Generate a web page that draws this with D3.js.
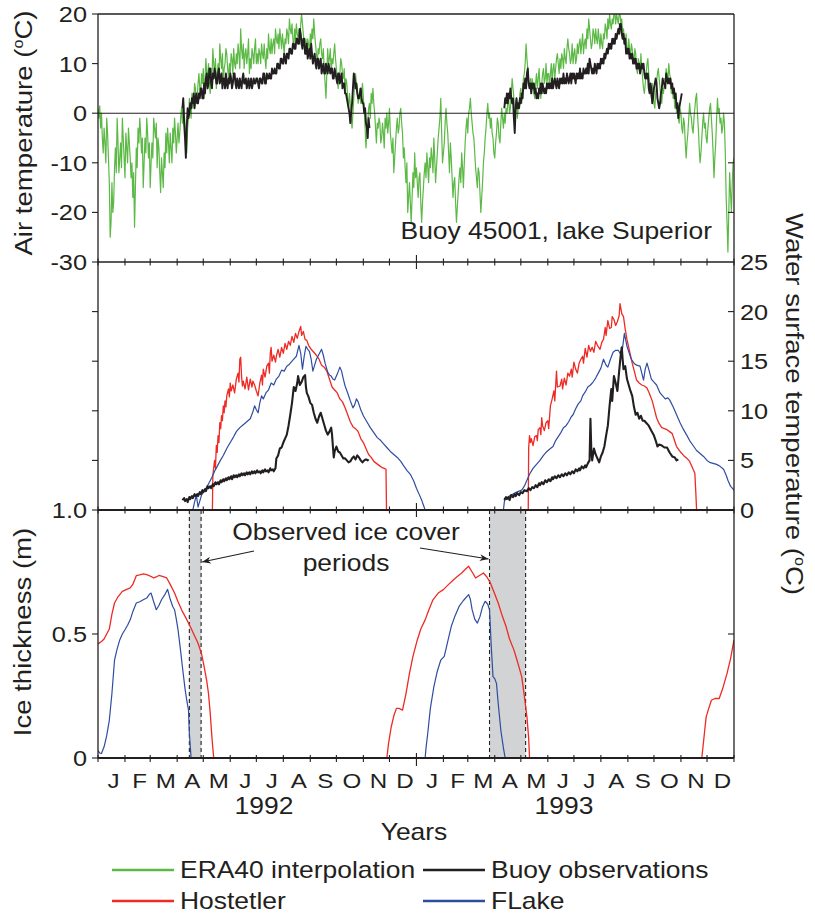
<!DOCTYPE html>
<html>
<head>
<meta charset="utf-8">
<script src="https://cdn.jsdelivr.net/npm/d3@7"></script>
<style>
  body { margin: 0; background: #fff; }
  text { font-family: "Liberation Sans", Arial, sans-serif; fill: #231f20; }
</style>
</head>
<body>
<div id="chart"></div>
<script>
// ---- data; days counted from 1992-01-01 ----
const monthLetters = ["J", "F", "M", "A", "M", "J", "J", "A", "S", "O", "N", "D"];
const yearLabels = ["1992", "1993"];
const airTicks = [-30, -20, -10, 0, 10, 20];
const waterTicks = [0, 5, 10, 15, 20, 25];
const iceTicks = [0, 0.5, 1.0];
const iceTickLabels = ["0", "0.5", "1.0"];

// observed ice cover periods (start day, end day)
const icePeriods = [[105, 118.5], [450, 491.5]];

// daily air temperature, ERA40 interpolation (degC), day 0 = 1 Jan 1992
const era40Air = [1,-1,1.5,-3,0,-5,-8,-3,-6,-10,-1,-4,-9,-14,-25,-22,-14,-20,-18,-11,-7,-12,-1,-6,-12,-9,-6,-11,-1,-5,
  -9,-13,-4,-7,-10,-3,-6,-9,-13,-10,-17,-12,-23,-15,-7,-11,-3,-6,-1,-4,-8,-5,-15,-10,-5,-8,-1,-4,-9,-6,
  -15,-10,-6,-9,-1,-3,-5,-2,-11,-5,-7,-12,-16,-9,-12,-15,-8,-11,-4,-8,-3,-6,-10,-4,-7,-10,-3,-6,-1,-4,
  -8,-5,-2,-6,-4,-1,1,-2,3,0,-2,-5,-8,-3,-1,3,1,-1,4,1,2,6,5,2,3,6,8,5,4,8,
  6,9,3,7,11,8,7,10,6,4,9,7,13,10,8,11,5,8,10,7,14,11,9,12,6,9,10,13,12,9,
  7,10,8,12,11,8,13,10,9,12,10,14,12,9,17,13,11,14,9,12,13,10,12,15,8,11,9,13,12,10,
  13,15,10,12,10,13,12,10,14,12,11,14,11,9,13,11,16,13,12,15,12,14,15,12,17,15,14,16,13,17,
  15,13,16,14,12,15,14,17,16,14,19,17,16,18,15,13,17,15,18,16,15,17,14,18,20,18,16,14,13,15,
  12,15,14,12,16,14,17,15,19,16,14,12,10,13,12,14,15,12,11,13,9,6,3,8,13,10,11,13,8,11,
  10,12,14,11,9,7,5,7,8,11,10,8,7,9,4,7,6,3,1,4,2,-1,-3,0,3,6,8,6,5,2,
  3,5,2,4,6,3,1,-3,-7,-4,-2,1,2,-1,4,2,5,2,0,-3,-6,-2,-3,-1,-2,-6,-5,-2,-4,-7,
  -1,-3,0,-4,-2,1,-4,-6,-8,-5,-12,-9,-6,-3,-1,-4,-3,0,1,-2,-4,-9,-7,-11,-14,-10,-20,-17,-14,-18,
  -22,-17,-12,-15,-8,-13,-11,-14,-17,-13,-12,-18,-22,-18,-15,-12,-10,-13,-8,-11,-14,-9,-11,-7,-9,-12,-5,-9,-14,-11,
  -8,-5,-3,-1,3,-4,-10,-8,-6,-2,1,-2,-4,-8,-12,-6,-9,-13,-17,-14,-13,-18,-22,-19,-16,-13,-11,-14,-8,-11,
  -15,-10,-6,-3,-1,-4,0,1,3,0,-2,-4,-5,-8,-11,-13,-15,-11,-12,-16,-20,-17,-14,-10,-8,-5,-3,0,2,-1,
  0,-3,-1,-4,-5,-8,-9,-6,-4,-1,-2,-5,-6,-2,1,-1,-3,0,-2,1,0,2,3,0,1,4,7,5,3,0,
  1,3,-1,1,2,4,5,2,4,7,8,10,14,11,9,6,5,7,4,7,6,4,3,6,8,5,7,9,5,3,
  6,8,9,6,7,10,6,8,8,5,8,10,6,9,10,7,9,11,12,10,8,11,9,12,11,9,13,11,10,13,
  15,13,12,10,11,14,10,12,13,10,11,14,12,14,15,12,14,16,12,14,15,13,17,15,19,17,15,13,14,17,
  16,14,17,15,14,17,15,13,16,14,13,16,15,18,17,15,19,17,20,18,17,19,18,20,20,18,20,19,18,20,
  20,18,19,16,17,15,14,16,13,12,15,13,11,14,13,11,10,13,12,9,8,11,10,8,12,9,7,5,4,6,
  8,10,11,8,6,4,3,6,5,2,1,4,6,8,9,7,5,3,2,5,4,7,6,9,8,6,10,8,7,4,
  6,3,4,1,3,0,1,-1,-2,1,0,-3,-4,-1,-2,-6,-9,-6,-4,-1,2,0,-1,-3,-4,-1,1,3,4,0,
  -3,-7,-10,-8,-5,-2,0,-3,-2,-5,-6,-3,-1,1,2,-1,-4,-8,-13,-9,-6,-1,3,0,1,-2,-1,-4,-3,0,
  -2,-8,-17,-22,-28,-20,-12,-16,-20,-14,-10,-9];

// daily air temperature, buoy observations (degC)
const buoyAir92Start = 97;
const buoyAir92 = [1,3,-2,-5,-9,-3,1,-1,0,2,1,3,2,4,1,3,4,2,2,4,3,5,5,3,3,6,4,7,8,5,
  6,9,9,6,5,8,7,9,8,6,6,8,9,6,7,8,5,7,7,5,8,6,5,7,6,8,7,5,6,8,
  8,6,5,7,6,5,7,6,5,7,8,6,6,7,5,6,7,5,6,7,5,6,7,6,6,7,7,6,5,7,
  7,6,6,8,8,6,6,8,7,7,8,7,7,9,8,8,9,8,8,10,10,9,9,11,11,10,10,12,11,10,
  12,12,11,13,13,12,12,14,14,13,13,15,15,14,14,17,16,14,13,15,15,12,12,14,11,12,13,11,14,12,
  10,11,12,10,9,11,11,9,10,11,8,9,10,8,8,10,9,8,10,9,8,9,9,7,7,9,8,7,6,8,
  8,6,7,8,5,6,6,4,4,3,2,1,0,-2,0,2,5,8,7,5,6,4,3,3,4,5,3,2,2,0,
  1,-2,-3,-5,-1,-3];
const buoyAir93Start = 467;
const buoyAir93 = [1,3,2,4,2,4,3,5,3,2,3,-1,-4,1,3,1,2,1,3,2,4,3,6,5,7,5,8,9,6,5,
  6,4,6,5,6,4,5,3,4,3,5,4,6,4,6,5,4,5,4,6,5,6,5,6,5,7,5,6,7,6,
  5,7,6,5,7,6,7,6,8,6,7,6,8,7,6,7,8,6,8,7,8,7,6,8,7,8,7,9,7,8,
  7,9,8,8,9,8,10,8,11,10,9,8,9,8,10,9,8,10,9,10,9,11,10,11,10,12,11,12,13,12,
  14,13,14,13,15,14,15,14,16,15,16,17,16,18,18,16,15,16,14,15,12,13,12,13,11,12,11,12,10,11,
  10,11,9,10,9,10,8,9,10,9,10,8,7,8,7,8,5,4,6,5,2,3,5,6,7,6,3,2,1,2,
  4,5,7,6,6,5,8,7,6,7,6,7,5,6,4,5,3,4,1,2,-1,1,2,3,4];

// water surface temperature (degC), [day, value]
const hostWater92 = [[131.5,0],[132,3.5],[134,5],[135,4.2],[136,6.5],[137,5.8],[138,7.5],[139,6.8],[140,8.8],[141,8.2],[142,9.5],[143,9],[144,10.5],[145,9.8],[146,11],[147,10.4],[148,11.5],[150,12.2],[151,11.4],[152,12.8],[153,12],[155,12.6],[157,11.8],[159,13.2],[161,13.8],[162,12.9],[163,15.2],[164,15.4],[165,13.5],[166,12.5],[167,13],[169,12.2],[171,13.4],[173,12.1],[175,13.2],[177,12.4],[178,13],[180,12.6],[182,12],[184,11.5],[186,12.8],[188,13.6],[189,12.6],[190,14.2],[192,13.4],[194,14.5],[196,14.8],[197,13.8],[198,15.8],[199,16.4],[200,15],[202,15.6],[204,14.9],[205,15.5],[207,16.2],[209,15.4],[211,16.4],[213,15.8],[215,16.8],[217,16.2],[219,17],[221,16.6],[223,17.5],[225,16.9],[227,17.8],[229,17.3],[231,18],[233,18.5],[234,17.6],[236,18],[238,17.2],[240,17.1],[242,16.6],[245,16.2],[248,15.9],[251,15.6],[254,15.2],[257,14.6],[260,14.4],[263,14],[266,13.2],[269,12.4],[272,12.1],[275,11.8],[278,11.2],[281,10.9],[284,10.3],[287,9.6],[290,8.9],[293,8.4],[296,8.2],[299,7.9],[302,7.2],[305,6.8],[308,6.2],[311,5.6],[314,5.3],[317,4.9],[320,4.7],[323,4.5],[326,4.3],[329,4.2],[331,4.1],[331.6,0]];
const hostWater93 = [[494.5,0],[495,6.3],[496,7.5],[497,6.8],[498,7.2],[500,6.5],[502,7.4],[504,7.5],[505,7.0],[506,8.1],[508,8.3],[509,7.6],[510,9.3],[511,8.5],[513,8.0],[515,8.8],[517,9.0],[518,8.2],[520,10.5],[522,11.2],[524,12.0],[525,11.0],[527,14.0],[528,12.4],[531,12.5],[533,13.2],[534,12.2],[536,13.3],[538,12.6],[540,13.8],[542,13.5],[544,14.2],[545,13.4],[547,14.9],[549,14.2],[551,13.8],[553,14.8],[555,15.2],[557,15.5],[558,14.8],[560,16.3],[562,15.4],[564,16.6],[566,16.0],[568,16.4],[570,15.9],[572,17.0],[574,16.6],[577,16.2],[579,16.9],[581,17.2],[583,18.4],[584,17.6],[586,19.1],[588,18.3],[590,18.4],[591,19.5],[593,19.2],[595,18.6],[597,19.0],[599,19.6],[600,20.8],[602,19.8],[604,19.5],[606,18.2],[608,17.2],[611,16.0],[614,14.8],[617,13.8],[619,13.1],[622,12.8],[625,12.6],[628,12.5],[631,12.3],[634,11.7],[637,11.0],[640,10.0],[642,9.3],[645,8.7],[648,8.3],[651,8.2],[654,8.1],[657,7.9],[660,7.7],[663,6.9],[665,6.4],[669,5.9],[673,5.5],[677,5.2],[680,4.9],[683,4.3],[686,3.7],[687,2.0],[688,0]];
const flakeWater92 = [[109,0],[111,0.8],[113,1.5],[115,0.3],[117,0.9],[119,1.5],[122,1.9],[125,2.3],[128,2.8],[131,3.3],[134,3.9],[137,4.4],[140,4.9],[144,5.5],[148,6.2],[152,6.8],[156,7.4],[159,7.9],[163,8.3],[167,8.6],[171,8.9],[175,9.2],[178,9.9],[180,10.5],[182,10.1],[184,9.8],[186,10.8],[188,11.5],[190,11.2],[193,11.8],[196,12.1],[199,12.8],[202,12.6],[205,13.2],[208,13.5],[211,14.1],[214,14.0],[217,14.5],[220,14.7],[223,15.0],[226,15.3],[228,15.5],[231,16.6],[233,15.8],[235,14.2],[237,15.5],[239,16.5],[241,16.2],[243,16.0],[245,15.2],[247,14.0],[249,14.6],[251,15.2],[254,15.7],[257,16.2],[259,15.6],[261,14.8],[264,13.9],[266,13.6],[268,13.5],[270,13.2],[272,13.1],[275,13.7],[278,14.4],[280,14.0],[282,13.2],[284,12.5],[287,11.8],[290,11.0],[293,10.3],[295,10.6],[297,11.2],[299,10.9],[302,10.1],[305,9.5],[309,8.9],[313,8.3],[317,7.8],[321,7.3],[325,7.0],[328,6.7],[332,6.3],[336,5.9],[340,5.6],[344,5.3],[348,4.9],[351,4.5],[355,4.0],[359,3.6],[363,2.9],[366,2.2],[369,1.6],[372,1.0],[374,0.5],[376,0]];
const flakeWater93 = [[466,0],[467,0.8],[468,1.2],[471,1.3],[474,1.5],[477,1.6],[481,1.8],[484,1.9],[487,2.0],[490,2.4],[493,3.0],[496,3.6],[500,4.2],[504,4.6],[508,5.0],[512,5.5],[516,5.9],[520,6.2],[523,6.4],[526,7.0],[529,7.4],[532,7.8],[535,8.3],[538,8.5],[541,8.9],[544,9.4],[546,9.6],[549,10.2],[552,10.7],[555,11.0],[557,11.5],[560,11.9],[563,12.4],[566,12.6],[569,12.9],[572,13.3],[575,13.8],[578,14.3],[581,15.2],[584,14.6],[586,14.4],[589,15.2],[592,15.9],[595,16.1],[598,16.1],[600,15.8],[602,15.7],[605,17.8],[608,16.5],[611,15.7],[613,15.2],[616,14.8],[619,14.6],[623,14.5],[627,13.1],[629,14.2],[631,14.8],[633,14.2],[636,13.2],[639,12.9],[642,12.6],[646,11.8],[649,11.5],[652,11.2],[655,11.3],[657,11.1],[661,10.4],[665,9.6],[669,8.8],[673,8.1],[677,7.5],[680,7.0],[684,6.5],[688,6.0],[692,5.7],[696,5.4],[700,5.0],[703,4.8],[707,4.7],[711,4.6],[715,4.4],[719,4.1],[722,3.5],[724,3.0],[727,2.4],[731,2.0]];
const buoyWater92 = [[97,1.0],[99,1.2],[100,0.9],[102,1.1],[103,0.8],[105,1.3],[106,1.1],[108,1.4],[109,1.2],[111,1.6],[112,1.4],[114,1.6],[115,1.4],[117,1.8],[118,1.6],[120,2.0],[121,1.8],[123,2.1],[124,1.9],[126,2.4],[127,2.2],[129,2.4],[130,2.2],[132,2.6],[133,2.4],[135,2.8],[136,2.6],[138,2.8],[139,2.6],[141,3.0],[142,2.8],[144,3.1],[145,2.9],[147,3.2],[148,3.0],[150,3.3],[151,3.1],[153,3.4],[154,3.1],[156,3.5],[157,3.3],[159,3.5],[160,3.3],[162,3.6],[163,3.4],[165,3.7],[166,3.5],[168,3.7],[169,3.5],[171,3.8],[172,3.6],[174,3.8],[175,3.6],[177,3.9],[178,3.7],[180,3.9],[181,3.7],[183,4.0],[184,3.8],[186,3.9],[187,3.7],[189,4.0],[190,3.8],[192,4.1],[193,3.9],[195,4.0],[196,3.8],[198,4.2],[199,4.0],[201,4.1],[202,3.9],[204,4.2],[205,5.2],[207,5.5],[209,6.2],[211,6.3],[213,6.8],[215,7.2],[217,7.6],[219,8.5],[221,9.6],[223,10.8],[225,12.4],[227,12.0],[229,12.8],[230,13.5],[232,12.6],[234,12.9],[236,13.4],[238,13.6],[239,12.4],[240,11.8],[242,11.4],[244,10.8],[246,10.6],[248,9.8],[250,9.2],[252,8.8],[254,9.4],[256,9.8],[258,9.2],[260,8.6],[262,8.0],[264,7.6],[266,7.9],[268,8.3],[269,7.6],[270,6.4],[271,5.3],[272,5.9],[274,6.4],[276,5.9],[278,5.8],[280,5.5],[282,5.2],[284,5.2],[286,5.0],[288,4.8],[290,4.9],[292,5.2],[294,5.4],[296,5.1],[298,5.5],[300,5.3],[302,5.0],[304,4.8],[306,5.0],[308,5.1],[310,5.0],[311,5.1]];
const buoyWater93 = [[467,1.0],[469,1.3],[470,1.1],[472,1.3],[473,1.0],[475,1.5],[477,1.3],[479,1.6],[480,1.4],[482,1.7],[484,1.5],[486,1.8],[488,1.7],[490,2.0],[493,1.9],[495,2.2],[497,2.0],[499,2.3],[501,2.2],[503,2.5],[505,2.3],[507,2.7],[508,2.5],[510,2.8],[512,2.6],[514,3.0],[516,2.8],[518,3.1],[520,2.9],[522,3.3],[523,3.1],[525,3.4],[527,3.2],[529,3.5],[531,3.3],[533,3.6],[535,3.4],[537,3.7],[539,3.5],[541,3.8],[543,3.6],[545,3.9],[547,3.7],[549,4.1],[551,3.9],[553,4.2],[554,4.0],[556,4.4],[558,4.2],[560,4.5],[561,4.3],[563,4.7],[565,5.0],[566,9.2],[567,6.0],[568,5.0],[570,6.2],[572,5.6],[574,5.2],[576,4.8],[578,5.4],[580,5.8],[582,6.4],[584,7.5],[586,8.5],[588,10.5],[590,12.2],[591,11.0],[593,13.5],[595,12.8],[597,12.0],[599,14.0],[601,15.8],[602,16.4],[603,15.2],[604,14.2],[606,14.5],[608,13.2],[610,12.6],[612,12.0],[614,11.5],[616,10.4],[618,9.6],[620,9.8],[622,9.2],[624,9.5],[626,9.0],[628,9.0],[630,8.8],[633,8.5],[636,8.0],[639,7.5],[641,7.0],[643,6.4],[645,6.6],[648,6.5],[651,6.3],[654,6.3],[657,5.8],[660,5.4],[663,5.3],[665,5.0],[667,5.1]];

// ice thickness (m), [day, value]
const hostIce92 = [[0,0.46],[4,0.47],[7,0.48],[10,0.5],[13,0.52],[16,0.58],[19,0.625],[23,0.65],[28,0.672],[33,0.68],[37,0.686],[40,0.7],[44,0.735],[48,0.738],[52,0.742],[55,0.74],[59,0.735],[62,0.73],[64,0.726],[67,0.73],[70,0.736],[74,0.732],[79,0.726],[83,0.7],[88,0.665],[92,0.63],[97,0.591],[101,0.565],[106,0.53],[110,0.5],[115,0.463],[119,0.42],[122,0.368],[125,0.31],[127,0.26],[129,0.18],[131,0.08],[133,0]];
const hostIce93 = [[332,0],[334,0.06],[337,0.125],[340,0.17],[343,0.2],[346,0.2],[350,0.193],[354,0.26],[358,0.341],[362,0.41],[367,0.476],[371,0.52],[376,0.557],[380,0.595],[385,0.638],[391,0.665],[397,0.679],[403,0.7],[409,0.72],[414,0.735],[418,0.746],[422,0.76],[426,0.773],[430,0.75],[434,0.726],[438,0.735],[443,0.746],[447,0.73],[451,0.706],[455,0.67],[460,0.625],[464,0.58],[469,0.53],[473,0.48],[478,0.436],[482,0.39],[487,0.328],[490,0.25],[493,0.166],[495,0.08],[496,0]];
const hostIce94 = [[694,0],[697,0.1],[699,0.166],[702,0.2],[705,0.233],[709,0.24],[714,0.24],[718,0.28],[723,0.341],[727,0.4],[731,0.476]];
const flakeIce92 = [[0,0.03],[2,0.02],[4,0.018],[7,0.045],[10,0.09],[13,0.152],[16,0.26],[19,0.395],[22,0.44],[25,0.476],[28,0.5],[31,0.517],[34,0.535],[37,0.557],[40,0.59],[44,0.625],[48,0.63],[52,0.638],[56,0.645],[59,0.66],[61,0.665],[64,0.63],[67,0.598],[70,0.615],[73,0.638],[77,0.66],[80,0.68],[83,0.64],[86,0.61],[88,0.598],[90,0.56],[92,0.517],[95,0.43],[97,0.368],[100,0.28],[102,0.233],[104,0.193],[105,0.1],[107,0]];
const flakeIce93 = [[376,0],[377,0.04],[379,0.1],[382,0.2],[386,0.287],[390,0.35],[394,0.395],[398,0.41],[402,0.47],[406,0.53],[410,0.57],[415,0.611],[420,0.635],[426,0.659],[428,0.64],[430,0.598],[433,0.56],[436,0.544],[439,0.57],[442,0.61],[445,0.632],[448,0.62],[450,0.598],[452,0.45],[454,0.328],[456,0.32],[458,0.301],[460,0.22],[463,0.112],[466,0.04],[468,0]];

const legendLabels = ["ERA40 interpolation", "Buoy observations", "Hostetler", "FLake"];
const colors = { era: "#5cb946", buoy: "#231f20", host: "#ee2a24", flake: "#2f4da0" };

// ---- layout ----
const W = 815, H = 913;
const L = 98, R = 734, T0 = 14, PH = 248;
const SX = 1.15; // figure font is wider than Arial

const svg = d3.select("#chart").append("svg").attr("width", W).attr("height", H);

const start = new Date(Date.UTC(1992, 0, 1)), end = new Date(Date.UTC(1994, 0, 1));
const x = d3.scaleUtc().domain([start, end]).range([L, R]);
const dx = d => x(new Date(start.getTime() + d * 864e5));

const yAir = d3.scaleLinear().domain([-30, 20]).range([T0 + PH, T0]);
const yWater = d3.scaleLinear().domain([0, 25]).range([T0 + 2 * PH, T0 + PH]);
const yIce = d3.scaleLinear().domain([0, 1]).range([T0 + 3 * PH, T0 + 2 * PH]);

// daily arrays -> [day, value]
const daily = (vals, first) => vals.map((v, i) => [first + i, v]);

function txt(g, px, py, s, size, anchor, rot) {
  return g.append("text")
    .attr("transform", `translate(${px},${py}) rotate(${rot || 0}) scale(${SX},1)`)
    .attr("text-anchor", anchor || "middle")
    .style("font-size", size + "px")
    .text(s);
}

// clip per panel
const defs = svg.append("defs");
[["clipAir", yAir], ["clipWater", yWater], ["clipIce", yIce]].forEach(([id, s]) => {
  defs.append("clipPath").attr("id", id).append("rect")
    .attr("x", L).attr("y", s.range()[1]).attr("width", R - L).attr("height", s.range()[0] - s.range()[1]);
});
defs.append("marker").attr("id", "arrow")
  .attr("viewBox", "0 0 10 8").attr("refX", 10).attr("refY", 4)
  .attr("markerWidth", 9).attr("markerHeight", 7).attr("markerUnits", "userSpaceOnUse")
  .attr("orient", "auto")
  .append("path").attr("d", "M0,0 L10,4 L0,8 L3,4 Z").attr("fill", "#231f20");

// ---- ice cover shading ----
const shade = svg.append("g");
icePeriods.forEach(p => {
  shade.append("rect")
    .attr("x", dx(p[0])).attr("y", yIce(1))
    .attr("width", dx(p[1]) - dx(p[0])).attr("height", yIce(0) - yIce(1))
    .attr("fill", "#d1d3d4");
  p.forEach(d => shade.append("line")
    .attr("x1", dx(d)).attr("x2", dx(d)).attr("y1", yIce(1)).attr("y2", yIce(0))
    .attr("stroke", "#231f20").attr("stroke-width", 1.1).attr("stroke-dasharray", "4,3"));
});

// ---- series ----
function drawLine(data, yS, clip, color, w) {
  svg.append("path").datum(data)
    .attr("clip-path", `url(#${clip})`)
    .attr("fill", "none").attr("stroke", color).attr("stroke-width", w)
    .attr("stroke-linejoin", "round")
    .attr("d", d3.line().x(d => dx(d[0])).y(d => yS(d[1])));
}
drawLine(daily(era40Air, 0), yAir, "clipAir", colors.era, 1.2);
drawLine(daily(buoyAir92, buoyAir92Start), yAir, "clipAir", colors.buoy, 1.9);
drawLine(daily(buoyAir93, buoyAir93Start), yAir, "clipAir", colors.buoy, 1.9);

drawLine(hostWater92, yWater, "clipWater", colors.host, 1.3);
drawLine(hostWater93, yWater, "clipWater", colors.host, 1.3);
drawLine(flakeWater92, yWater, "clipWater", colors.flake, 1.2);
drawLine(flakeWater93, yWater, "clipWater", colors.flake, 1.2);
drawLine(buoyWater92, yWater, "clipWater", colors.buoy, 2.1);
drawLine(buoyWater93, yWater, "clipWater", colors.buoy, 2.1);

drawLine(hostIce92, yIce, "clipIce", colors.host, 1.3);
drawLine(hostIce93, yIce, "clipIce", colors.host, 1.3);
drawLine(hostIce94, yIce, "clipIce", colors.host, 1.3);
drawLine(flakeIce92, yIce, "clipIce", colors.flake, 1.2);
drawLine(flakeIce93, yIce, "clipIce", colors.flake, 1.2);

// ---- frame ----
const frame = svg.append("g").attr("stroke", "#231f20").attr("fill", "none");
frame.append("line").attr("x1", L).attr("x2", L).attr("y1", T0).attr("y2", yIce(0)).attr("stroke-width", 1.3);
frame.append("line").attr("x1", R).attr("x2", R).attr("y1", T0).attr("y2", yIce(0)).attr("stroke-width", 1.3);
frame.append("line").attr("x1", L).attr("x2", R).attr("y1", T0).attr("y2", T0).attr("stroke-width", 1.3);
frame.append("line").attr("x1", L).attr("x2", R).attr("y1", yAir(-30)).attr("y2", yAir(-30)).attr("stroke-width", 1.5);
frame.append("line").attr("x1", L).attr("x2", R).attr("y1", yWater(0)).attr("y2", yWater(0)).attr("stroke-width", 1.8);
frame.append("line").attr("x1", L).attr("x2", R).attr("y1", yIce(0)).attr("y2", yIce(0)).attr("stroke-width", 2);
frame.append("line").attr("x1", L).attr("x2", R).attr("y1", yAir(0)).attr("y2", yAir(0)).attr("stroke-width", 1.1);

// month ticks on panel boundaries
const monthTicks = x.ticks(d3.utcMonth.every(1));
const isYear = d => d.getUTCMonth() === 0 && d > start && d < end;
[yAir(-30), yWater(0)].forEach(yy => {
  monthTicks.forEach(d => frame.append("line")
    .attr("x1", x(d)).attr("x2", x(d))
    .attr("y1", yy - (isYear(d) ? 7 : 3.5)).attr("y2", yy + (isYear(d) ? 7 : 3.5))
    .attr("stroke-width", 1.1));
});
monthTicks.forEach(d => frame.append("line")
  .attr("x1", x(d)).attr("x2", x(d))
  .attr("y1", yIce(0) - (isYear(d) ? 5 : 3)).attr("y2", yIce(0) + (isYear(d) ? 8 : 4))
  .attr("stroke-width", 1.1));

// y ticks
function hTick(px, py, len) {
  frame.append("line").attr("x1", px).attr("x2", px + len).attr("y1", py).attr("y2", py).attr("stroke-width", 1.1);
}
airTicks.forEach(v => hTick(L, yAir(v), -6));
[-20, -10, 10].forEach(v => hTick(R, yAir(v), -6));
waterTicks.slice(1, 5).forEach(v => { hTick(L, yWater(v), -6); hTick(R, yWater(v), -6); });
iceTicks.forEach(v => hTick(L, yIce(v), -6));
hTick(R, yIce(0.5), -6);

// ---- tick labels ----
const lab = svg.append("g");
airTicks.forEach(v => txt(lab, 87, yAir(v) + 8, String(v), 22, "end"));
iceTicks.forEach((v, i) => txt(lab, 87, yIce(v) + 8, iceTickLabels[i], 22, "end"));
waterTicks.forEach(v => txt(lab, 740, yWater(v) + 8, String(v), 22, "start"));

d3.utcMonth.range(start, end).forEach(m => {
  const mid = (x(m) + x(d3.utcMonth.offset(m, 1))) / 2 + 2;
  txt(lab, mid, 788, monthLetters[m.getUTCMonth()], 21, "middle");
});
txt(lab, 264, 814, yearLabels[0], 23, "middle");
txt(lab, 564, 814, yearLabels[1], 23, "middle");
txt(lab, 414, 840, "Years", 23, "middle");

// axis titles with superscript o
function degTitle(px, py, pre, rot) {
  const t = txt(lab, px, py, pre, 24, "middle", rot);
  t.append("tspan").attr("dy", -9).style("font-size", "14px").text("o");
  t.append("tspan").attr("dy", 9).text("C)");
}
degTitle(32, 133, "Air temperature (", -90);
txt(lab, 31, 632, "Ice thickness (m)", 24, "middle", -90);
degTitle(786, 404, "Water surface temperature (", 90);

txt(lab, 712, 239, "Buoy 45001, lake Superior", 23, "end");

// ---- annotation ----
txt(lab, 346, 540, "Observed ice cover", 23, "middle");
txt(lab, 346, 571, "periods", 23, "middle");
svg.append("line").attr("x1", 254).attr("y1", 551).attr("x2", dx(icePeriods[0][1]) + 1).attr("y2", 562)
  .attr("stroke", "#231f20").attr("stroke-width", 1.1).attr("marker-end", "url(#arrow)");
svg.append("line").attr("x1", 420).attr("y1", 548).attr("x2", dx(icePeriods[1][0]) - 1).attr("y2", 559)
  .attr("stroke", "#231f20").attr("stroke-width", 1.1).attr("marker-end", "url(#arrow)");

// ---- legend ----
const legColors = [colors.era, colors.buoy, colors.host, colors.flake];
const legPos = [[112, 870], [423, 870], [112, 901], [423, 901]];
const leg = svg.append("g");
legendLabels.forEach((s, i) => {
  const [lx, ly] = legPos[i];
  leg.append("line").attr("x1", lx).attr("x2", lx + 62).attr("y1", ly).attr("y2", ly)
    .attr("stroke", legColors[i]).attr("stroke-width", 2.6);
  txt(leg, lx + 68, ly + 8, s, 23, "start");
});
</script>
</body>
</html>
